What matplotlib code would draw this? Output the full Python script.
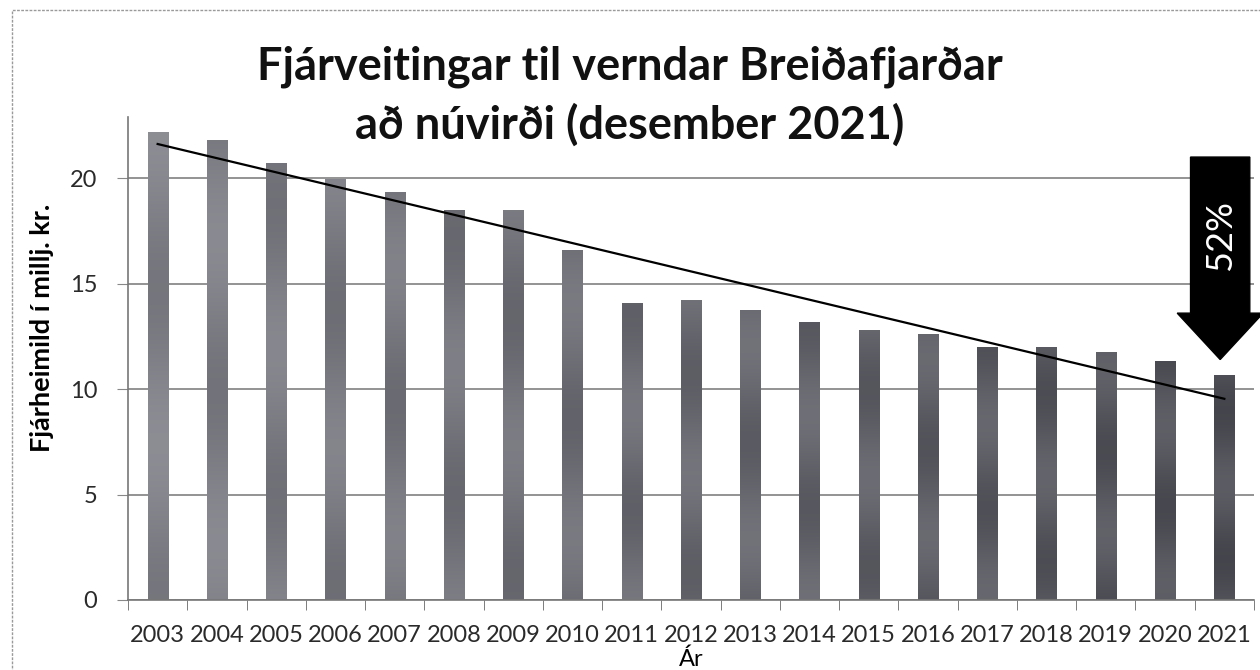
import numpy as np
import matplotlib
matplotlib.use('Agg')
import matplotlib.pyplot as plt
from matplotlib.patches import FancyArrow, Rectangle

# ------------------------------------------------------------
# Data
# ------------------------------------------------------------

years = [str(y) for y in range(2003, 2022)]
values = [22.2, 21.8, 20.7, 19.95, 19.35, 18.5, 18.5, 16.6, 14.1, 14.2,
          13.75, 13.2, 12.8, 12.6, 12.0, 12.0, 11.75, 11.35, 10.65]
arrow_label = '52%'
title = 'Fjárveitingar til verndar Breiðafjarðar\nað núvirði (desember 2021)'
ylabel = 'Fjárheimild í millj. kr.'
xlabel = 'Ár'

# ------------------------------------------------------------
# Plotting
# ------------------------------------------------------------

plt.rcParams['font.family'] = ['Lato', 'DejaVu Sans']

fig = plt.figure(figsize=(12.6, 6.7), dpi=100)
ax = fig.add_axes([0.1016, 0.1045, 0.8936, 0.7209])

x = np.arange(len(years))
bars = ax.bar(x, values, width=0.34, color='#6a6a72', zorder=2)

# grey scanned-looking gradient on each bar
shades = np.linspace(0.46, 0.27, len(years))
prof = np.linspace(0, 1, 200)
for i, b in enumerate(bars):
    base = shades[i]
    col = base + 0.09 * np.sin(prof * np.pi * 1.5 + i) ** 2
    img = np.stack([col, col, col + 0.03], axis=-1).clip(0, 1)[:, None, :].repeat(2, axis=1)
    im = ax.imshow(img, extent=[b.get_x(), b.get_x() + b.get_width(), 0, b.get_height()],
                   aspect='auto', origin='lower', zorder=2)
    im.set_clip_path(b)
    b.set_facecolor('none')

# linear trend line
k, m = np.polyfit(x, values, 1)
ax.plot(x, k * x + m, color='black', lw=1.6, zorder=3)

ax.set_xlim(-0.5, len(years) - 0.5)
ax.set_ylim(0, 22.9)
ax.set_yticks([0, 5, 10, 15, 20])
ax.yaxis.grid(True, color='#8a8a8a', lw=1.3, zorder=0)
ax.set_axisbelow(True)

ax.set_xticks(x)
ax.set_xticklabels(years, fontsize=17, color='#2a2a2a')
ax.set_xticks(np.arange(len(years) + 1) - 0.5, minor=True)
ax.tick_params(axis='x', which='major', length=0, pad=18)
ax.tick_params(axis='x', which='minor', length=7, color='#666666')
ax.tick_params(axis='y', labelsize=17, labelcolor='#2a2a2a', length=8, color='#888888', pad=14)

for s in ['top', 'right']:
    ax.spines[s].set_visible(False)
ax.spines['left'].set_color('#777777')
ax.spines['bottom'].set_color('#777777')
ax.spines['left'].set_linewidth(1.2)
ax.spines['bottom'].set_linewidth(1.2)

ax.set_ylabel(ylabel, fontsize=19.5, fontweight='bold')
ax.yaxis.set_label_coords(-0.066, 0.563)
ax.set_xlabel(xlabel, fontsize=17, labelpad=2)

fig.text(0.5, 0.932, title, ha='center', va='top', fontsize=32.5,
         fontweight='bold', linespacing=1.42, color='#111111')

# arrow over last bar
arr = FancyArrow(len(years) - 1.07, 21.0, 0, -9.6, width=1.0, head_width=1.45,
                 head_length=2.2, length_includes_head=True, color='black',
                 clip_on=False, zorder=5)
ax.add_patch(arr)
ax.text(len(years) - 1.07, 17.3, arrow_label, rotation=90, color='white',
        ha='center', va='center', fontsize=26, zorder=6)

# outer frame
fig.patches.append(Rectangle((0.0095, -0.01), 1.1, 0.995, transform=fig.transFigure,
                             fill=False, ec='#9a9a9a', lw=1.0, ls=(0, (2, 1))))

fig.savefig('out.png', dpi=100)
